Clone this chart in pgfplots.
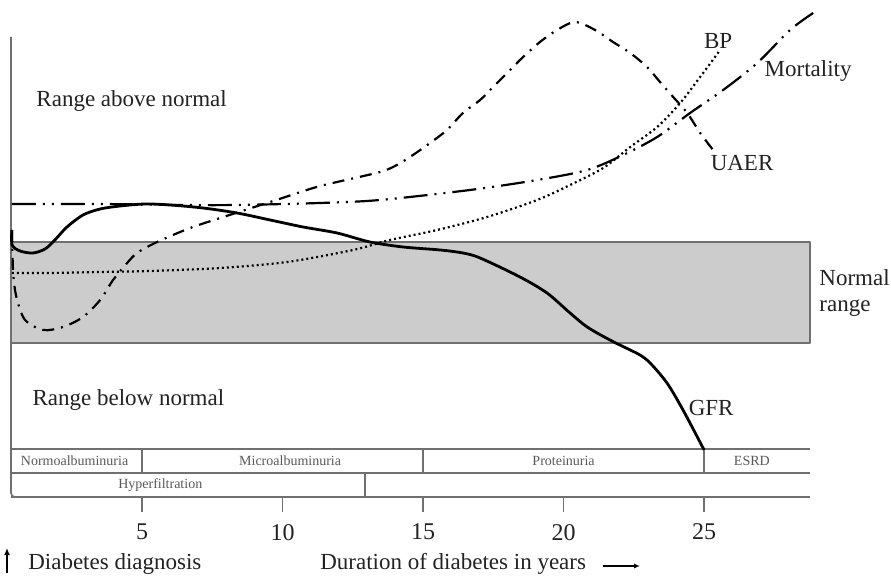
\documentclass[border=0pt]{standalone}
\usepackage{fontspec}
\setmainfont{Liberation Serif}
\usepackage{pgfplots}
\pgfplotsset{compat=1.18}
\usetikzlibrary{arrows.meta}
\definecolor{bandgray}{HTML}{CCCCCC}
\definecolor{boxline}{HTML}{707070}
\definecolor{txt}{HTML}{222222}

\begin{document}
\begin{tikzpicture}
\begin{axis}[
  scale only axis, width=399.5pt, height=243.5pt,
  xmin=0.34, xmax=28.77, ymin=0, ymax=487,
  clip=false,
  axis x line*=bottom, hide y axis,
  x axis line style={boxline, line width=0.8pt},
  xtick={5,10,15,20,25},
  tick align=outside, major tick length=7.5pt,
  xtick style={boxline, line width=0.8pt},
  xticklabel style={font=\fontsize{12}{12}\selectfont, text=txt, yshift=-2.5pt},
  /pgf/number format/assume math mode=true,
  every axis plot/.append style={line join=round},
]
% normal range band
\addplot[fill=bandgray, draw=boxline, line width=0.8pt]
  coordinates {(0.34,154) (28.77,154) (28.77,255) (0.34,255)} -- cycle;

% stage boxes
\draw[boxline, line width=0.8pt] (0.34,48) -- (28.77,48);
\draw[boxline, line width=0.8pt] (0.34,24) -- (28.77,24);
\draw[boxline, line width=0.8pt] (5,24) -- (5,48);
\draw[boxline, line width=0.8pt] (15,24) -- (15,48);
\draw[boxline, line width=0.8pt] (25,24) -- (25,48);
\draw[boxline, line width=0.8pt] (12.94,0) -- (12.94,24);
\draw[boxline, line width=0.8pt, rounded corners=2pt] (0.34,460) -- (0.34,0) -- (2,0);

\begin{scope}[font=\fontsize{7}{7}\selectfont, text=black!65]
\node at (2.6,36) {Normoalbuminuria};
\node at (10.27,36) {Microalbuminuria};
\node at (20.0,36) {Proteinuria};
\node at (26.7,36) {ESRD};
\node at (5.65,12) {Hyperfiltration};
\end{scope}

% BP
\addplot[smooth, black, line width=1.1pt, dash pattern=on 1pt off 1.5pt] coordinates {
  (0.37,224) (1.73,224) (3.51,225) (5.28,226) (7.78,229) (10.16,235)
  (12.51,247) (13.82,257) (15.50,267) (17.28,280) (19.06,297) (20.23,312)
  (21.41,329) (22.37,350) (23.33,370) (24.15,394) (24.86,420) (25.57,447)
};
% Mortality
\addplot[smooth, black, line width=1.1pt,
  dash pattern=on 12pt off 3.5pt on 1pt off 3.5pt on 1pt off 3.5pt] coordinates {
  (0.37,293) (3.51,293) (6.35,292) (8.38,292) (11.33,294) (13.47,297)
  (16.67,307) (19.06,317) (20.84,327) (22.12,342) (23.33,360) (24.50,384)
  (25.68,407) (26.89,434) (28.06,467) (28.88,484)
};
% UAER
\addplot[smooth, black, line width=1.1pt,
  dash pattern=on 6pt off 3.5pt on 1pt off 3.5pt] coordinates {
  (0.37,267) (0.41,227) (0.48,207) (0.55,197) (0.84,177) (1.48,167)
  (2.19,170) (2.90,180) (3.51,197) (3.97,217) (4.47,234) (4.82,244)
  (5.39,253) (6.10,262) (6.81,270) (7.78,279) (9.56,295) (11.09,309)
  (11.94,315) (13.47,325) (14.07,332) (14.64,342) (15.25,354) (15.85,367)
  (16.42,384) (17.03,397) (17.49,410) (18.10,427) (18.56,440) (19.16,455)
  (19.77,467) (20.41,475) (21.12,467) (21.76,455) (22.37,444) (22.97,430)
  (23.43,415) (23.90,400) (24.40,384) (24.86,364) (25.32,347)
};
% GFR
\addplot[smooth, black, line width=1.4pt] coordinates {
  (0.37,267) (0.38,252) (0.66,246) (1.12,244) (1.55,248) (1.90,257)
  (2.33,270) (2.90,282) (3.51,288) (4.22,291) (5.11,293) (6.00,292)
  (7.17,289) (8.38,284) (9.56,277) (10.73,270) (11.94,264) (13.11,255)
  (14.29,250) (15.61,247) (16.42,244) (17.03,239) (18.45,220) (19.41,204)
  (20.23,184) (20.84,170) (21.65,157) (22.37,147) (22.72,142) (23.08,134)
  (23.68,114) (24.25,87) (25.0,47)
};

\begin{scope}[font=\fontsize{11.5}{13}\selectfont, text=txt]
\node[anchor=west, inner sep=0pt] at (1.23,396) {Range above normal};
\node[anchor=west, inner sep=0pt] at (1.09,97) {Range below normal};
\node[anchor=west, align=left, inner sep=0pt] at (29.09,204) {Normal\\range};
\node at (25.25,89) {GFR};
\node at (25.50,456) {BP};
\node at (28.70,426) {Mortality};
\node at (26.35,334) {UAER};
\node[anchor=west, inner sep=0pt] at (0.94,-67) {Diabetes diagnosis};
\node[anchor=west, inner sep=0pt] at (11.33,-67) {Duration of diabetes in years};
\end{scope}
\draw[black, line width=0.8pt, -{Latex[length=3.5pt,width=3pt]}] (0.196,-76) -- (0.196,-51);
\draw[black, line width=0.7pt, -{Latex[length=3pt,width=2.5pt]}] (21.4,-69) -- (22.72,-69);

\coordinate (bl) at (-0.053,-79);
\coordinate (tr) at (31.65,497);
\end{axis}
\pgfresetboundingbox
\path[use as bounding box] (bl) rectangle (tr);
\end{tikzpicture}
\end{document}
